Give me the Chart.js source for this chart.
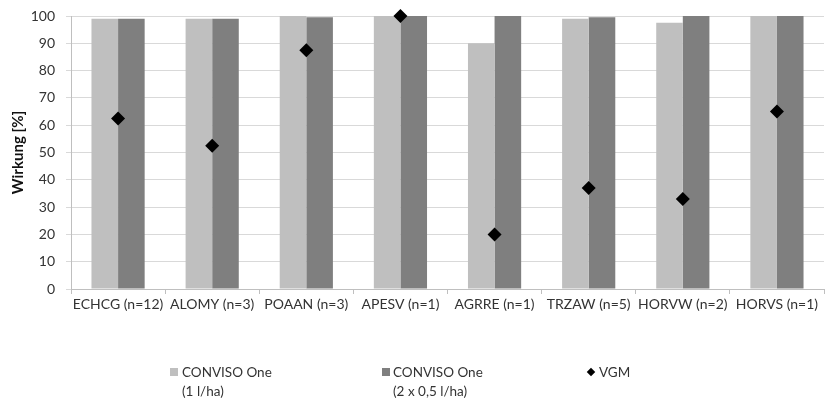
<!DOCTYPE html>
<html>
<head>
<meta charset="utf-8">
<script src="https://cdn.jsdelivr.net/npm/chart.js@4.4.1/dist/chart.umd.min.js"></script>
<style>
  html, body { margin: 0; padding: 0; background: #fff; }
  #wrap { position: relative; width: 825px; height: 399px; }
  #c { position: absolute; left: 0; top: 0; }
  .lg { position: absolute; font-family: Lato, "Open Sans", sans-serif; font-size: 13.5px; color: #333; line-height: 19px; }
  .sw { position: absolute; width: 8px; height: 8px; }
</style>
</head>
<body>
<div id="wrap">
  <canvas id="c" width="825" height="399"></canvas>
  <div class="sw" style="left:170px; top:368px; background:#bfbfbf;"></div>
  <div class="lg" style="left:182px; top:363px;">CONVISO One<br>(1 l/ha)</div>
  <div class="sw" style="left:382px; top:368px; background:#7f7f7f;"></div>
  <div class="lg" style="left:393px; top:363px;">CONVISO One<br>(2 x 0,5 l/ha)</div>
  <div class="sw" style="left:588px; top:369px; background:#000; width:6px; height:6px; transform:rotate(45deg);"></div>
  <div class="lg" style="left:599px; top:363px;">VGM</div>
</div>
<script>
const categories = ["ECHCG (n=12)", "ALOMY (n=3)", "POAAN (n=3)", "APESV (n=1)", "AGRRE (n=1)", "TRZAW (n=5)", "HORVW (n=2)", "HORVS (n=1)"];
const conviso1 = [99, 99, 100, 100, 90, 99, 97.5, 100];
const conviso2 = [99, 99, 99.5, 100, 100, 99.5, 100, 100];
const vgm = [62.5, 52.5, 87.5, 100, 20, 37, 33, 65];
const seriesNames = ["CONVISO One (1 l/ha)", "CONVISO One (2 x 0,5 l/ha)", "VGM"];
const yTitle = "Wirkung [%]";

const FONT = "Lato, 'Open Sans', sans-serif";
new Chart(document.getElementById('c'), {
  type: 'bar',
  data: {
    labels: categories,
    datasets: [
      { type: 'line', label: seriesNames[2], data: vgm, showLine: false, clip: false,
        pointStyle: 'rectRot', pointRadius: 7, pointHoverRadius: 7,
        backgroundColor: '#000', borderColor: '#000', borderWidth: 0, order: 0 },
      { label: seriesNames[0], data: conviso1, backgroundColor: '#bfbfbf', borderWidth: 0,
        barPercentage: 1, categoryPercentage: 0.565, order: 1 },
      { label: seriesNames[1], data: conviso2, backgroundColor: '#7f7f7f', borderWidth: 0,
        barPercentage: 1, categoryPercentage: 0.565, order: 1 }
    ]
  },
  options: {
    responsive: false,
    animation: false,
    layout: { autoPadding: false, padding: { left: 0, right: 1, top: 16, bottom: 84 } },
    plugins: { legend: { display: false }, tooltip: { enabled: false } },
    scales: {
      x: {
        grid: { drawOnChartArea: false, drawTicks: true, tickLength: 5, offset: true, color: '#bfbfbf' },
        border: { color: '#bfbfbf' },
        ticks: { font: { family: FONT, size: 14 }, color: '#333', maxRotation: 0, autoSkip: false, padding: 2 },
        afterFit: s => { s.height = 26; s.paddingLeft = 0; s.paddingRight = 0; }
      },
      y: {
        min: 0, max: 100,
        grid: { color: '#d9d9d9', tickLength: 5 },
        border: { color: '#bfbfbf' },
        ticks: { stepSize: 10, font: { family: FONT, size: 14 }, color: '#333', padding: 11 },
        title: { display: true, text: yTitle, font: { family: FONT, size: 15, weight: 'bold' }, color: '#111', padding: { top: 9, bottom: 0 } },
        afterFit: s => { s.width = 71; s.paddingTop = 0; s.paddingBottom = 0; }
      }
    }
  }
});
</script>
</body>
</html>
